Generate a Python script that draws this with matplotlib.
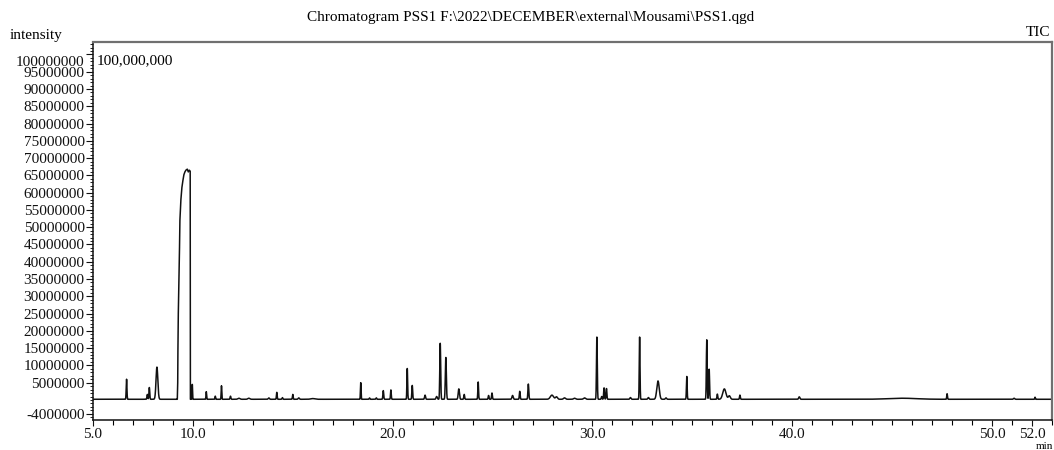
import numpy as np
import matplotlib
matplotlib.use('Agg')
import matplotlib.pyplot as plt
from matplotlib.ticker import FixedLocator, FixedFormatter
from matplotlib.transforms import ScaledTranslation

plt.rcParams['font.family'] = ['Liberation Serif', 'DejaVu Serif']

# peak table (retention time in min, height in millions, sigma in min)
peak_rt = [6.68, 7.72, 7.82, 8.20, 9.97, 10.67, 11.12, 11.43, 11.88, 12.3, 12.8, 13.8,
           14.20, 14.48, 15.00, 15.30, 16.0, 18.40, 18.84, 19.18, 19.53, 19.91,
           20.73, 20.98, 21.62, 22.20, 22.38, 22.66, 23.31, 23.58, 24.28, 24.80,
           24.97, 26.00, 26.36, 26.79, 27.97, 28.20, 28.6, 29.1, 29.6, 30.22,
           30.46, 30.58, 30.70, 31.90, 32.36, 32.80, 33.28, 33.68, 34.72, 35.72,
           35.84, 36.25, 36.60, 36.85, 37.38, 40.35, 45.5, 47.75, 51.1, 52.15]
peak_height = [5.8, 1.4, 3.4, 9.3, 4.3, 2.2, 0.9, 3.9, 0.9, 0.3, 0.3, 0.4,
               2.0, 0.5, 1.4, 0.4, 0.2, 4.8, 0.4, 0.4, 2.5, 2.7,
               8.9, 4.0, 1.2, 0.8, 16.2, 12.1, 3.0, 1.4, 5.0, 1.1,
               1.8, 1.1, 2.3, 4.4, 1.2, 0.7, 0.4, 0.3, 0.4, 18.0,
               0.8, 3.3, 3.1, 0.5, 18.0, 0.5, 5.3, 0.4, 6.6, 17.2,
               8.7, 1.5, 3.0, 1.0, 1.2, 0.7, 0.3, 1.6, 0.3, 0.6]
peak_sigma = [0.018, 0.02, 0.02, 0.045, 0.012, 0.015, 0.015, 0.015, 0.02, 0.05, 0.05, 0.03,
              0.018, 0.02, 0.018, 0.03, 0.1, 0.015, 0.02, 0.02, 0.02, 0.018,
              0.018, 0.02, 0.025, 0.03, 0.022, 0.025, 0.03, 0.02, 0.018, 0.02,
              0.02, 0.03, 0.02, 0.022, 0.08, 0.05, 0.05, 0.05, 0.05, 0.02,
              0.02, 0.02, 0.02, 0.03, 0.018, 0.03, 0.06, 0.03, 0.018, 0.02,
              0.02, 0.02, 0.08, 0.05, 0.02, 0.03, 0.7, 0.018, 0.03, 0.015]

# overloaded main peak outline (min, millions)
main_rt = [9.22, 9.24, 9.25, 9.27, 9.30, 9.33, 9.35, 9.40, 9.45, 9.50, 9.55,
           9.60, 9.65, 9.72, 9.77, 9.82, 9.865, 9.87]
main_height = [0.3, 5, 14, 25, 34, 44, 52, 58, 61.5, 63.5, 65.2,
               66.0, 66.5, 66.8, 66.0, 66.5, 66.2, 0.3]

baseline_level = 0.2

ytick_vals = [-4] + list(range(5, 101, 5))
xtick_vals = [5, 10, 20, 30, 40, 50, 52]

t = np.arange(5.0, 53.0, 0.005)
trace = np.full_like(t, baseline_level)
for rt, h, s in zip(peak_rt, peak_height, peak_sigma):
    trace += h * np.exp(-0.5 * ((t - rt) / s) ** 2)

before = t < main_rt[0]
after = t > main_rt[-1]
tt = np.concatenate([t[before], main_rt, t[after]])
yy = np.concatenate([trace[before], main_height, trace[after]]) * 1e6

fig = plt.figure(figsize=(10.54, 4.5), dpi=100)
ax = fig.add_axes([93/1054, 1 - 420/450, (1052 - 93)/1054, (420 - 42)/450])
ax.plot(tt, yy, color='#111111', lw=1.1)

ax.set_xlim(5.0, 53.0)
ax.set_ylim(-5.8e6, 103.6e6)

ax.xaxis.set_major_locator(FixedLocator(xtick_vals))
ax.xaxis.set_major_formatter(FixedFormatter(['%.1f' % v for v in xtick_vals]))
ax.xaxis.set_minor_locator(FixedLocator([v for v in range(6, 54) if v not in xtick_vals]))
ax.yaxis.set_major_locator(FixedLocator([v * 1e6 for v in ytick_vals]))
ax.yaxis.set_major_formatter(FixedFormatter(['%d' % (v * 1000000) for v in ytick_vals]))
ax.yaxis.set_minor_locator(FixedLocator([v * 1e6 for v in range(-5, 104)]))

ax.tick_params(axis='both', which='major', labelsize=11, width=0.8, colors='#111111')
ax.tick_params(axis='y', which='major', length=5, pad=1)
ax.tick_params(axis='y', which='minor', length=2.5, width=0.6)
ax.tick_params(axis='x', which='major', length=4.5, pad=1.5)
ax.tick_params(axis='x', which='minor', length=3.5, width=0.8)

# top label sits just under the frame
top_lbl = ax.yaxis.get_majorticklabels()[-1]
top_lbl.set_transform(top_lbl.get_transform() + ScaledTranslation(0, -5/72, fig.dpi_scale_trans))

for side in ['left', 'bottom']:
    ax.spines[side].set_color('#111111')
    ax.spines[side].set_linewidth(1.1)
for side in ['top', 'right']:
    ax.spines[side].set_color('#707070')
    ax.spines[side].set_linewidth(1.6)

fig.text(531/1054, 1 - 18/450, r'Chromatogram PSS1 F:\2022\DECEMBER\external\Mousami\PSS1.qgd',
         ha='center', va='center', fontsize=11)
fig.text(10/1054, 1 - 35/450, 'intensity', ha='left', va='center', fontsize=11)
fig.text(1050/1054, 1 - 33/450, 'TIC', ha='right', va='center', fontsize=11)
fig.text(97/1054, 1 - 61/450, '100,000,000', ha='left', va='center', fontsize=11)
fig.text(1053/1054, -1/450, 'min', ha='right', va='bottom', fontsize=8)

fig.savefig('out.png', dpi=100)
